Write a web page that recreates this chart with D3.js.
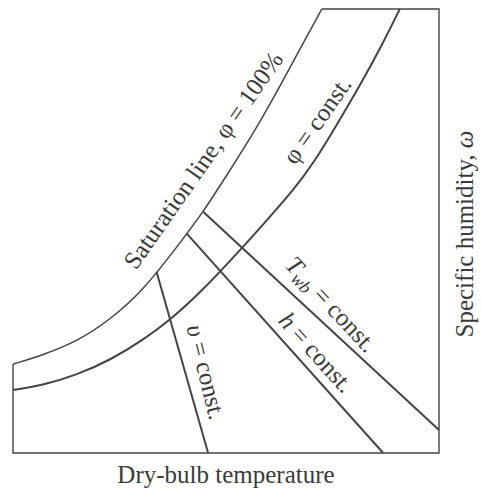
<!DOCTYPE html>
<html>
<head>
<meta charset="utf-8">
<script src="https://cdn.jsdelivr.net/npm/d3@7"></script>
<style>
  body { margin: 0; background: #fff; }
  svg { display: block; }
  text { font-family: "Liberation Serif", "DejaVu Serif", serif; fill: #3a3a3a; }
</style>
</head>
<body>
<svg id="chart"></svg>
<script>
// Schematic psychrometric chart, values in arbitrary units (0-100 on both axes)
const satTemp = [0, 7.1, 15.0, 22.8, 30.6, 38.4, 44.7, 50.2, 58.4, 67.4, 72.5];
const satHum  = [20.0, 22.1, 25.1, 30.0, 36.7, 46.3, 54.3, 62.6, 75.0, 91.1, 100];

const phiTemp = [0, 7.1, 15.0, 22.8, 30.6, 36.9, 43.9, 54.1, 60.3, 65.8, 70.5, 76.0, 81.5, 86.2, 90.8];
const phiHum  = [14.2, 15.3, 17.6, 20.9, 25.5, 30.0, 36.0, 46.5, 53.2, 59.2, 65.2, 73.9, 82.9, 91.1, 100];

// straight lines of constant property: [start on saturation line, end on border]
const vTemp   = [33.7, 45.8];
const vHum    = [40.8, 0];
const hTemp   = [40.8, 86.9];
const hHum    = [49.4, 0];
const twbTemp = [44.7, 100];
const twbHum  = [54.3, 5.2];

// chart border (open at the upper left, where the saturation line runs)
const frameTemp = [72.5, 100, 100, 0, 0];
const frameHum  = [100, 100, 0, 0, 20.0];

const width = 481;
const height = 489;

const svg = d3.select("#chart")
    .attr("width", width)
    .attr("height", height);

const xScale = d3.scaleLinear().domain([0, 100]).range([13, 439]);
const yScale = d3.scaleLinear().domain([0, 100]).range([453, 9]);

const toPoints = (xs, ys) => xs.map((x, i) => [x, ys[i]]);

const line = d3.line()
    .x(d => xScale(d[0]))
    .y(d => yScale(d[1]));

const curve = d3.line()
    .x(d => xScale(d[0]))
    .y(d => yScale(d[1]))
    .curve(d3.curveBasis);

//Border
svg.append("path")
    .attr("d", line(toPoints(frameTemp, frameHum)))
    .attr("fill", "none")
    .attr("stroke", "#444")
    .attr("stroke-width", 1.4);

//Saturation line and constant relative humidity line
svg.append("path")
    .attr("d", curve(toPoints(satTemp, satHum)))
    .attr("fill", "none")
    .attr("stroke", "#444")
    .attr("stroke-width", 1.5);

svg.append("path")
    .attr("d", curve(toPoints(phiTemp, phiHum)))
    .attr("fill", "none")
    .attr("stroke", "#444")
    .attr("stroke-width", 2);

//v, h and Twb lines
[[vTemp, vHum], [hTemp, hHum], [twbTemp, twbHum]].forEach(([t, w]) => {
    svg.append("path")
        .attr("d", line(toPoints(t, w)))
        .attr("fill", "none")
        .attr("stroke", "#444")
        .attr("stroke-width", 2);
});

const fontSize = 25;

const addLabel = (x, y, angle) => svg.append("text")
    .attr("transform", "translate(" + x + "," + y + ") rotate(" + angle + ")")
    .attr("text-anchor", "middle")
    .style("font-size", fontSize + "px");

addLabel(210, 165, -55).text("Saturation line, \u03C6 = 100%");
addLabel(324, 125, -55).text("\u03C6 = const.");

const twb = addLabel(325, 310, 47);
twb.append("tspan").style("font-style", "italic").text("T");
twb.append("tspan").style("font-style", "italic").style("font-size", "18px")
    .attr("dy", 5).text("wb");
twb.append("tspan").attr("dy", -5).text(" = const.");

const hl = addLabel(310, 358, 48);
hl.append("tspan").style("font-style", "italic").text("h");
hl.append("tspan").text(" = const.");

const vl = addLabel(198, 374, 76);
vl.append("tspan").style("font-style", "italic").text("\u03C5");
vl.append("tspan").text(" = const.");

//Axis titles
svg.append("text")
    .attr("x", (xScale(0) + xScale(100)) / 2)
    .attr("y", 483)
    .attr("text-anchor", "middle")
    .style("font-size", fontSize + "px")
    .text("Dry-bulb temperature");

const yTitle = svg.append("text")
    .attr("transform", "translate(473," + 234 + ") rotate(-90)")
    .attr("text-anchor", "middle")
    .style("font-size", fontSize + "px");
yTitle.append("tspan").text("Specific humidity, ");
yTitle.append("tspan").style("font-style", "italic").text("\u03C9");
</script>
</body>
</html>
